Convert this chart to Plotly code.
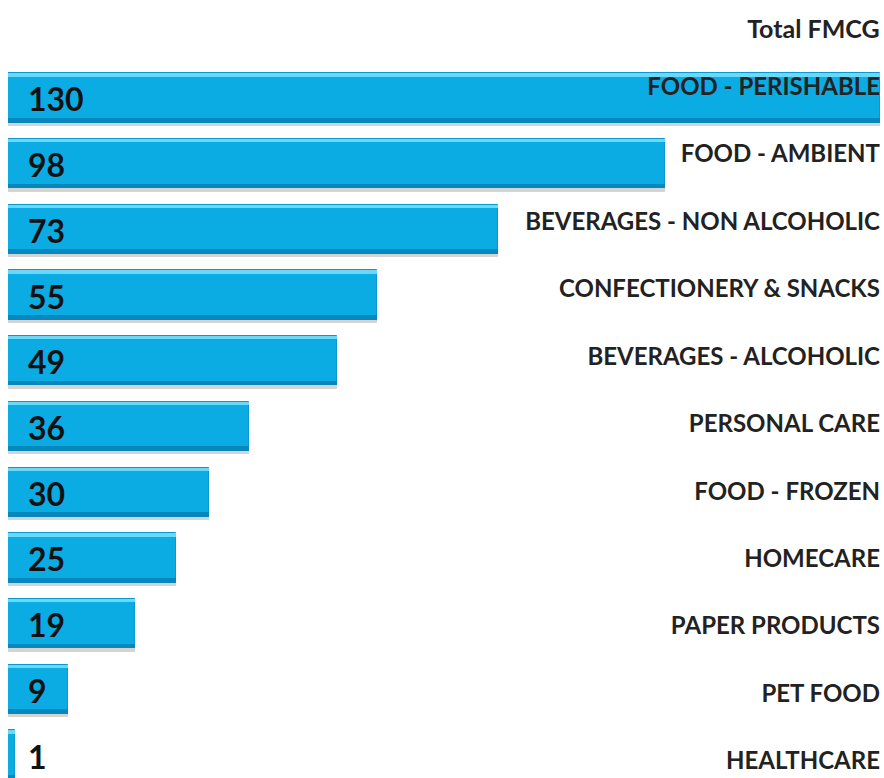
import plotly.graph_objects as go

# FMCG categories, largest first
categories = [
    "FOOD - PERISHABLE", "FOOD - AMBIENT", "BEVERAGES - NON ALCOHOLIC",
    "CONFECTIONERY & SNACKS", "BEVERAGES - ALCOHOLIC", "PERSONAL CARE",
    "FOOD - FROZEN", "HOMECARE", "PAPER PRODUCTS", "PET FOOD", "HEALTHCARE",
]
values = [130, 98, 73, 55, 49, 36, 30, 25, 19, 9, 1]
title_text = "Total FMCG"

FONT = "Lato, 'Open Sans', sans-serif"
BAR = "#0BABE3"
BAR_TOP = "#6AD8F8"
BAR_BOTTOM = "#0788BC"
BAR_W = 0.75
xmax = max(values)

fig = go.Figure()

# soft drop shadow under each bar
fig.add_trace(go.Bar(
    y=categories, x=values, orientation="h",
    width=BAR_W, offset=-BAR_W / 2 + 0.05,
    marker=dict(color="rgba(60,60,60,0.22)", line=dict(width=0)),
    hoverinfo="skip", showlegend=False,
))
# main bar body
fig.add_trace(go.Bar(
    y=categories, x=values, orientation="h",
    width=BAR_W, offset=-BAR_W / 2,
    marker=dict(color=BAR, line=dict(color="#0A98CF", width=1)),
    showlegend=False,
))
# light bevel along the top edge
fig.add_trace(go.Bar(
    y=categories, x=values, orientation="h",
    width=0.05, offset=-BAR_W / 2,
    marker=dict(color=BAR_TOP, line=dict(width=0)),
    hoverinfo="skip", showlegend=False,
))
# darker bevel along the bottom edge
fig.add_trace(go.Bar(
    y=categories, x=values, orientation="h",
    width=0.07, offset=BAR_W / 2 - 0.07,
    marker=dict(color=BAR_BOTTOM, line=dict(width=0)),
    hoverinfo="skip", showlegend=False,
))

# category names, right-aligned at the right edge on their own axis
fig.add_trace(go.Scatter(
    y=categories, x=[xmax] * len(categories), yaxis="y2",
    mode="text", text=categories, textposition="middle left",
    textfont=dict(family=FONT, size=24, color="#222222", weight="bold"),
    hoverinfo="skip", showlegend=False,
))

# value labels near the start of each bar
for cat, v in zip(categories, values):
    fig.add_annotation(
        x=0, y=cat, xref="x", yref="y", text=str(v),
        showarrow=False, xanchor="left", xshift=18, yshift=-1,
        font=dict(family=FONT, size=32, color="#111111", weight="bold"),
    )

fig.update_layout(
    width=884, height=778,
    margin=dict(l=8, r=4, t=65, b=0),
    paper_bgcolor="white", plot_bgcolor="white",
    barmode="overlay", bargap=0,
    title=dict(
        text=title_text, x=0.995, xanchor="right", y=0.963, yanchor="middle",
        font=dict(family=FONT, size=25, color="#222222", weight="bold"),
    ),
    xaxis=dict(range=[0, xmax], visible=False, fixedrange=True),
    yaxis=dict(
        type="category", categoryorder="array", categoryarray=categories,
        range=[10.35, -0.5], visible=False,
    ),
    yaxis2=dict(
        type="category", categoryorder="array", categoryarray=categories,
        range=[10.22, -0.356], overlaying="y", visible=False,
    ),
)

fig.write_html("out.html")
